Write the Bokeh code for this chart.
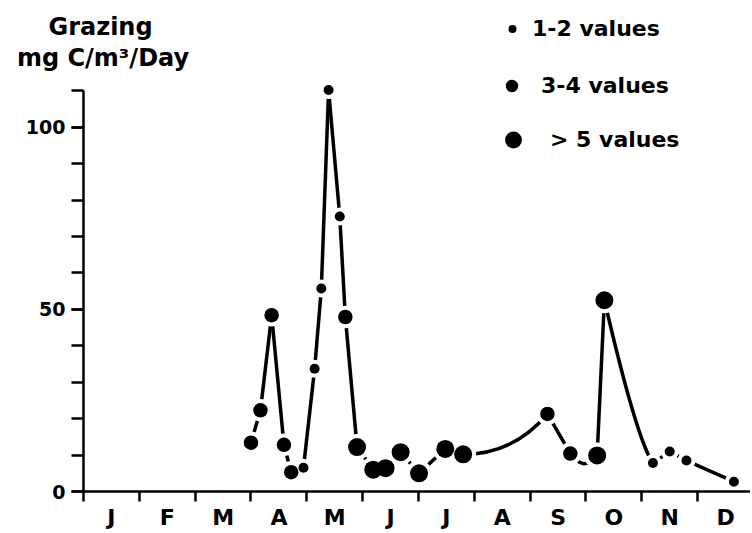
from bokeh.plotting import figure
from bokeh.models import (Range1d, FixedTicker, Legend, LegendItem, Label,
                          LinearAxis, ColumnDataSource)
from bokeh.embed import file_html
from bokeh.resources import INLINE

# ---------------- data ----------------
months = ["J", "F", "M", "A", "M", "J", "J", "A", "S", "O", "N", "D"]
# position along the year, in months from 1 January
month_pos = [3.00, 3.17, 3.37, 3.59, 3.72, 3.94, 4.14, 4.26, 4.39, 4.59,
             4.69, 4.90, 5.19, 5.41, 5.68, 6.01, 6.48, 6.80, 8.31, 8.72,
             9.20, 9.33, 10.20, 10.50, 10.80, 11.65]
grazing = [13.4, 22.3, 48.4, 12.8, 5.3, 6.5, 33.7, 55.7, 110.2, 75.5,
           47.9, 12.2, 6.0, 6.4, 10.8, 5.0, 11.7, 10.2, 21.3, 10.4,
           9.9, 52.5, 7.8, 11.0, 8.5, 2.7]
n_values = ["3-4", "3-4", "3-4", "3-4", "3-4", "1-2", "1-2", "1-2", "1-2", "1-2",
            "3-4", ">5", ">5", ">5", ">5", ">5", ">5", ">5", "3-4", "3-4",
            ">5", ">5", "1-2", "1-2", "1-2", "1-2"]
y_ticks = [0, 50, 100]
y_top = 110
legend_labels = {"1-2": "1-2 values", "3-4": "3-4 values", ">5": "> 5 values"}

# ---------------- styling / geometry (pixels) ----------------
FONT = "DejaVu Sans"
W, H = 750, 531
X0_PX, Y0_PX = 83, 491          # where (0, 0) sits on the canvas
PX_MONTH, PX_UNIT = 55.83, 3.643
x_range = Range1d(-X0_PX / PX_MONTH, (W - X0_PX) / PX_MONTH)
y_range = Range1d(-(H - Y0_PX) / PX_UNIT, Y0_PX / PX_UNIT)
dot_size = {"1-2": 10, "3-4": 14.5, ">5": 18}
legend_box = {"1-2": 20, "3-4": 31, ">5": 42}   # legend marker = 0.4 * box

p = figure(width=W, height=H, output_backend="svg", toolbar_location=None,
           title=None, x_range=x_range, y_range=y_range,
           x_axis_type=None, y_axis_type=None,
           min_border_left=0, min_border_right=0,
           min_border_top=0, min_border_bottom=0)
p.outline_line_color = None
p.background_fill_color = "white"
p.border_fill_color = "white"

# ---------------- axes (fixed at the origin) ----------------
xaxis = LinearAxis(
    fixed_location=0, bounds=(0, x_range.end),
    ticker=FixedTicker(ticks=[i + 0.5 for i in range(12)],
                       minor_ticks=list(range(12))),
    major_label_overrides={i + 0.5: m for i, m in enumerate(months)},
    axis_label=None,
    axis_line_width=2.5, axis_line_color="black",
    major_tick_line_color=None, major_tick_out=0, major_tick_in=0,
    minor_tick_line_width=2.5, minor_tick_line_color="black",
    minor_tick_out=10, minor_tick_in=0,
    major_label_standoff=3,
    major_label_text_font=FONT, major_label_text_font_style="bold",
    major_label_text_font_size="22px", major_label_text_color="black",
)
p.add_layout(xaxis, "below")

yaxis = LinearAxis(
    fixed_location=0, bounds=(0, y_top),
    ticker=FixedTicker(ticks=y_ticks, minor_ticks=list(range(0, y_top + 1, 10))),
    axis_label=None,
    axis_line_width=2.5, axis_line_color="black",
    major_tick_line_width=2.5, major_tick_out=12, major_tick_in=0,
    minor_tick_line_width=2.5, minor_tick_line_color="black",
    minor_tick_out=12, minor_tick_in=0,
    major_label_standoff=6,
    major_label_text_font=FONT, major_label_text_font_style="bold",
    major_label_text_font_size="19px", major_label_text_color="black",
)
p.add_layout(yaxis, "left")

# ---------------- curve ----------------
# control point of each segment as fractions along the segment (x, y) plus a sag
shape = {17: (0.6, 0.0, 0.0), 19: (0.5, 0.5, 5.0), 21: (0.67, 0.86, 0.0)}
x0, y0, x1, y1, cx, cy = [], [], [], [], [], []
for i in range(len(month_pos) - 1):
    xa, ya, xb, yb = month_pos[i], grazing[i], month_pos[i + 1], grazing[i + 1]
    kx, ky, sag = shape.get(i, (0.5, 0.5, 0.0))
    x0.append(xa); y0.append(ya); x1.append(xb); y1.append(yb)
    cx.append(xa + kx * (xb - xa)); cy.append(ya + ky * (yb - ya) - sag)
p.quadratic(x0=x0, y0=y0, x1=x1, y1=y1, cx=cx, cy=cy,
            line_color="black", line_width=3.5)

# white halos that leave a small gap between the curve and every dot
halo = ColumnDataSource(dict(x=month_pos, y=grazing,
                             s=[dot_size[n] + 8 for n in n_values]))
p.scatter("x", "y", size="s", source=halo, fill_color="white", line_color=None)

# ---------------- dots + legends ----------------
legend_geo = {  # location of legend box (px from bottom-left), label standoff
    "1-2": ((502, 480), 10),
    "3-4": ((496, 423), 14),
    ">5": ((492, 369), 16),
}
for cat in ["1-2", "3-4", ">5"]:
    xs = [x for x, n in zip(month_pos, n_values) if n == cat]
    ys = [y for y, n in zip(grazing, n_values) if n == cat]
    r = p.scatter(xs, ys, size=dot_size[cat], fill_color="black", line_color=None)
    loc, standoff = legend_geo[cat]
    lg = Legend(items=[LegendItem(label=legend_labels[cat], renderers=[r])],
                location=loc, glyph_width=legend_box[cat], glyph_height=45,
                label_standoff=standoff, padding=0, margin=0, spacing=0,
                border_line_color=None, background_fill_alpha=0,
                label_text_font=FONT, label_text_font_style="bold",
                label_text_font_size="22px", label_text_color="black")
    p.add_layout(lg, "center")

# ---------------- title (y-axis quantity and unit) ----------------
for txt, xpos, ypos in [("Grazing", 0.305, 127.4), ("mg C/m\u00b3/Day", 0.35, 119.1)]:
    p.add_layout(Label(x=xpos, y=ypos, text=txt, text_align="center",
                       text_baseline="alphabetic", text_font=FONT,
                       text_font_style="bold", text_font_size="24px",
                       text_color="black"))

open("out.html", "w").write(file_html(p, INLINE))
